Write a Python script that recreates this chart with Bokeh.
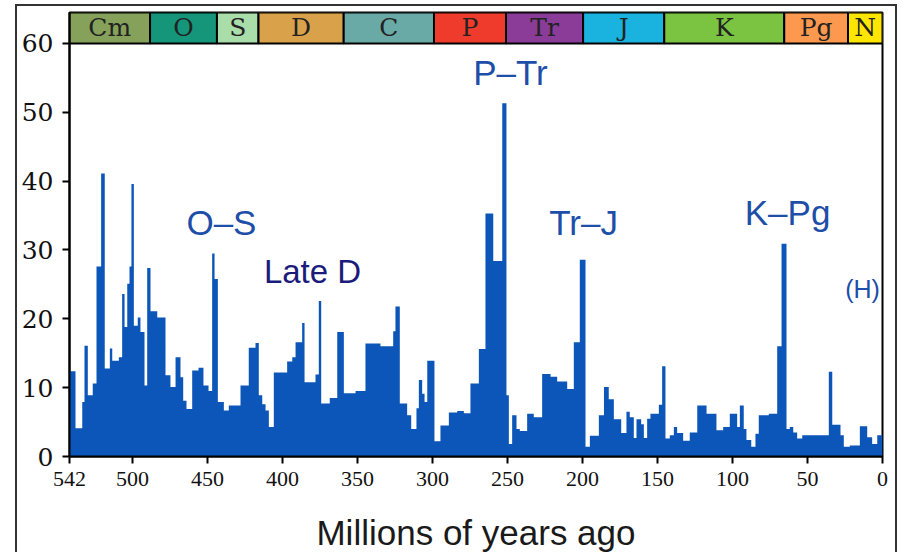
from bokeh.plotting import figure
from bokeh.models import Range1d, FixedTicker, ColumnDataSource
from bokeh.core.properties import value
from bokeh.embed import file_html
from bokeh.resources import INLINE

# ---- data: extinction intensity (%) in bins starting at age (Ma) ----
bin_start = [542, 538, 533.5, 532, 529.8, 526.5, 524, 520.9, 518.5, 515.1,
             513.5, 509.1, 506.9, 505.3, 503.5, 502, 500.7, 499.1, 496.5, 494.7,
             492, 490.2, 488, 483.5, 478, 474.7, 471.3, 468, 466.2, 464,
             460.2, 456, 452.7, 449.3, 446.9, 445.3, 443.1, 439.1, 435.8, 428,
             422.5, 418, 415.8, 413.5, 411.3, 409.1, 405.8, 396.9, 393.5, 391.3,
             386.9, 385.3, 378, 375.8, 374.2, 368.5, 363.5, 359.1, 351.3, 344.7,
             334.7, 326.2, 324.7, 321.8, 316.9, 314.2, 310.7, 309.1, 306.9, 305.3,
             303.5, 298.7, 294.7, 289.1, 283.5, 279.1, 274.7, 269.1, 264.7, 259.5,
             253.5, 250.7, 249.1, 246.9, 244, 241.8, 236.9, 232.5, 226.9, 221.3,
             216.9, 210.2, 205.8, 201.8, 198, 195.1, 189.1, 185.7, 182.5, 179.1,
             174.2, 170.7, 168.5, 165.8, 164, 160.9, 159.1, 156.9, 154.7, 149.1,
             146.9, 144.7, 141.8, 139.1, 136.9, 132.9, 128.5, 123.5, 117.3, 110.7,
             106.2, 101.8, 96.9, 95.1, 92.5, 90.7, 87.5, 84.7, 82.5, 75.8,
             70.2, 67.3, 64, 61.8, 59.5, 56.9, 53.5, 35.8, 33.5, 28,
             25.8, 21.8, 15.1, 10.2, 6.9, 3.5]
intensity = [12.4, 4.1, 7.9, 16.1, 8.9, 10.6, 27.6, 41.1, 12.8, 15.7,
             13.9, 14.4, 23.6, 18.8, 25.1, 27.6, 39.6, 19.0, 20.2, 18.1,
             10.3, 27.4, 21.1, 20.2, 11.8, 10.1, 14.4, 11.5, 8.1, 6.9,
             12.5, 12.9, 10.3, 9.5, 29.5, 25.8, 7.9, 6.7, 7.4, 10.3,
             15.8, 16.5, 8.9, 7.6, 6.7, 4.3, 12.2, 13.8, 14.4, 16.6,
             19.4, 10.8, 11.9, 22.6, 7.7, 8.5, 18.1, 9.2, 9.5, 16.4,
             16.0, 18.2, 21.8, 7.7, 6.0, 4.0, 7.0, 11.1, 9.1, 7.9,
             13.9, 2.2, 4.5, 6.4, 6.6, 6.3, 10.6, 15.6, 35.3, 28.4,
             51.3, 8.9, 1.8, 6.0, 4.0, 3.7, 6.2, 5.7, 12.0, 11.6,
             10.9, 9.8, 16.6, 28.6, 1.4, 3.0, 6.0, 10.1, 8.3, 5.4,
             3.4, 6.5, 5.7, 2.7, 5.4, 4.7, 2.7, 5.5, 6.2, 7.5,
             13.1, 2.6, 3.1, 4.3, 3.4, 2.3, 3.5, 7.4, 6.2, 3.8,
             4.3, 6.2, 4.3, 7.4, 4.0, 2.4, 1.4, 3.3, 6.0, 6.2,
             16.0, 30.9, 4.0, 4.3, 3.5, 2.6, 3.1, 12.3, 4.6, 3.1,
             1.4, 1.6, 4.4, 2.8, 1.8, 3.1]
end_age = 0

# ---- geologic periods ----
periods = ["Cm", "O", "S", "D", "C", "P", "Tr", "J", "K", "Pg", "N"]
period_start = [542, 488.3, 443.7, 416, 359.2, 299, 251, 199.6, 145.5, 65.5, 23]
period_colors = ["#86A25A", "#15967A", "#A9DDAA", "#D9A24A", "#6AAAA6", "#EF3B2C",
                 "#8A3C98", "#1AB3E0", "#7BC442", "#FD994E", "#FFE600"]

# ---- extinction event labels ----
event_labels = ["O\u2013S", "Late D", "P\u2013Tr", "Tr\u2013J", "K\u2013Pg", "(H)"]
event_age = [440.7, 380, 248, 199.3, 63.3, 13.3]
event_level = [34.0, 26.9, 55.8, 34.0, 35.4, 24.3]
event_colors = ["#1D4EA8", "#1B1B7C", "#1D4EA8", "#1D4EA8", "#1D4EA8", "#1D4EA8"]
event_sizes = ["35px", "33px", "35px", "35px", "35px", "25px"]

x_ticks = [542, 500, 450, 400, 350, 300, 250, 200, 150, 100, 50, 0]
y_ticks = [0, 10, 20, 30, 40, 50, 60]

y_top = 64.5

p = figure(width=882, height=548, x_range=Range1d(542, 0), y_range=Range1d(0, y_top),
           output_backend="svg", toolbar_location=None,
           min_border_left=52, min_border_right=17, min_border_top=6, min_border_bottom=98)
p.styles = {"border-top": "2px solid #333", "border-left": "2px solid #333",
            "border-right": "2px solid #333", "margin-left": "15px", "margin-top": "4px"}
p.grid.visible = False
p.outline_line_color = "black"
p.outline_line_width = 2
p.background_fill_color = "white"

# step area
xs = bin_start + [end_age]
ys = intensity + [intensity[-1]]
p.varea_step(x=xs, y1=[0] * len(xs), y2=ys, step_mode="after", fill_color="#0B56B8")

# period bar
pend = period_start[1:] + [end_age]
psrc = ColumnDataSource(dict(left=period_start, right=pend, color=period_colors, name=periods,
                             mid=[(a + b) / 2 for a, b in zip(period_start, pend)]))
p.quad(left="left", right="right", bottom=60, top=y_top, fill_color="color",
       line_color="black", line_width=2, source=psrc)
p.text(x="mid", y=(60 + y_top) / 2, text="name", source=psrc, text_align="center",
       text_baseline="middle", text_font=value("DejaVu Serif"), text_font_size="25px",
       text_color="#222222")

# event labels
esrc = ColumnDataSource(dict(x=event_age, y=event_level, t=event_labels, c=event_colors, s=event_sizes))
p.text(x="x", y="y", text="t", text_color="c", text_font_size="s", source=esrc,
       text_align="center", text_baseline="middle", text_font=value("Liberation Sans"))

# axes
for ax in (p.xaxis[0], p.yaxis[0]):
    ax.axis_line_width = 2
    ax.axis_line_color = "black"
    ax.major_tick_line_width = 2
    ax.major_tick_line_color = "black"
    ax.major_tick_in = 0
    ax.major_tick_out = 7
    ax.minor_tick_line_color = None
    ax.major_label_text_color = "#111111"

p.xaxis.ticker = FixedTicker(ticks=x_ticks)
p.xaxis.major_label_text_font = "Liberation Serif"
p.xaxis.major_label_text_font_size = "22px"
p.xaxis.major_label_standoff = 8
p.xaxis.axis_label = "Millions of years ago"
p.xaxis.axis_label_text_font = "Liberation Sans"
p.xaxis.axis_label_text_font_size = "35px"
p.xaxis.axis_label_text_font_style = "normal"
p.xaxis.axis_label_text_color = "#1a1a1a"
p.xaxis.axis_label_standoff = 24

p.yaxis.ticker = FixedTicker(ticks=y_ticks)
p.yaxis.major_label_text_font = "DejaVu Serif"
p.yaxis.major_label_text_font_size = "25px"
p.yaxis.major_label_standoff = 9

open("out.html", "w").write(file_html(p, INLINE))
